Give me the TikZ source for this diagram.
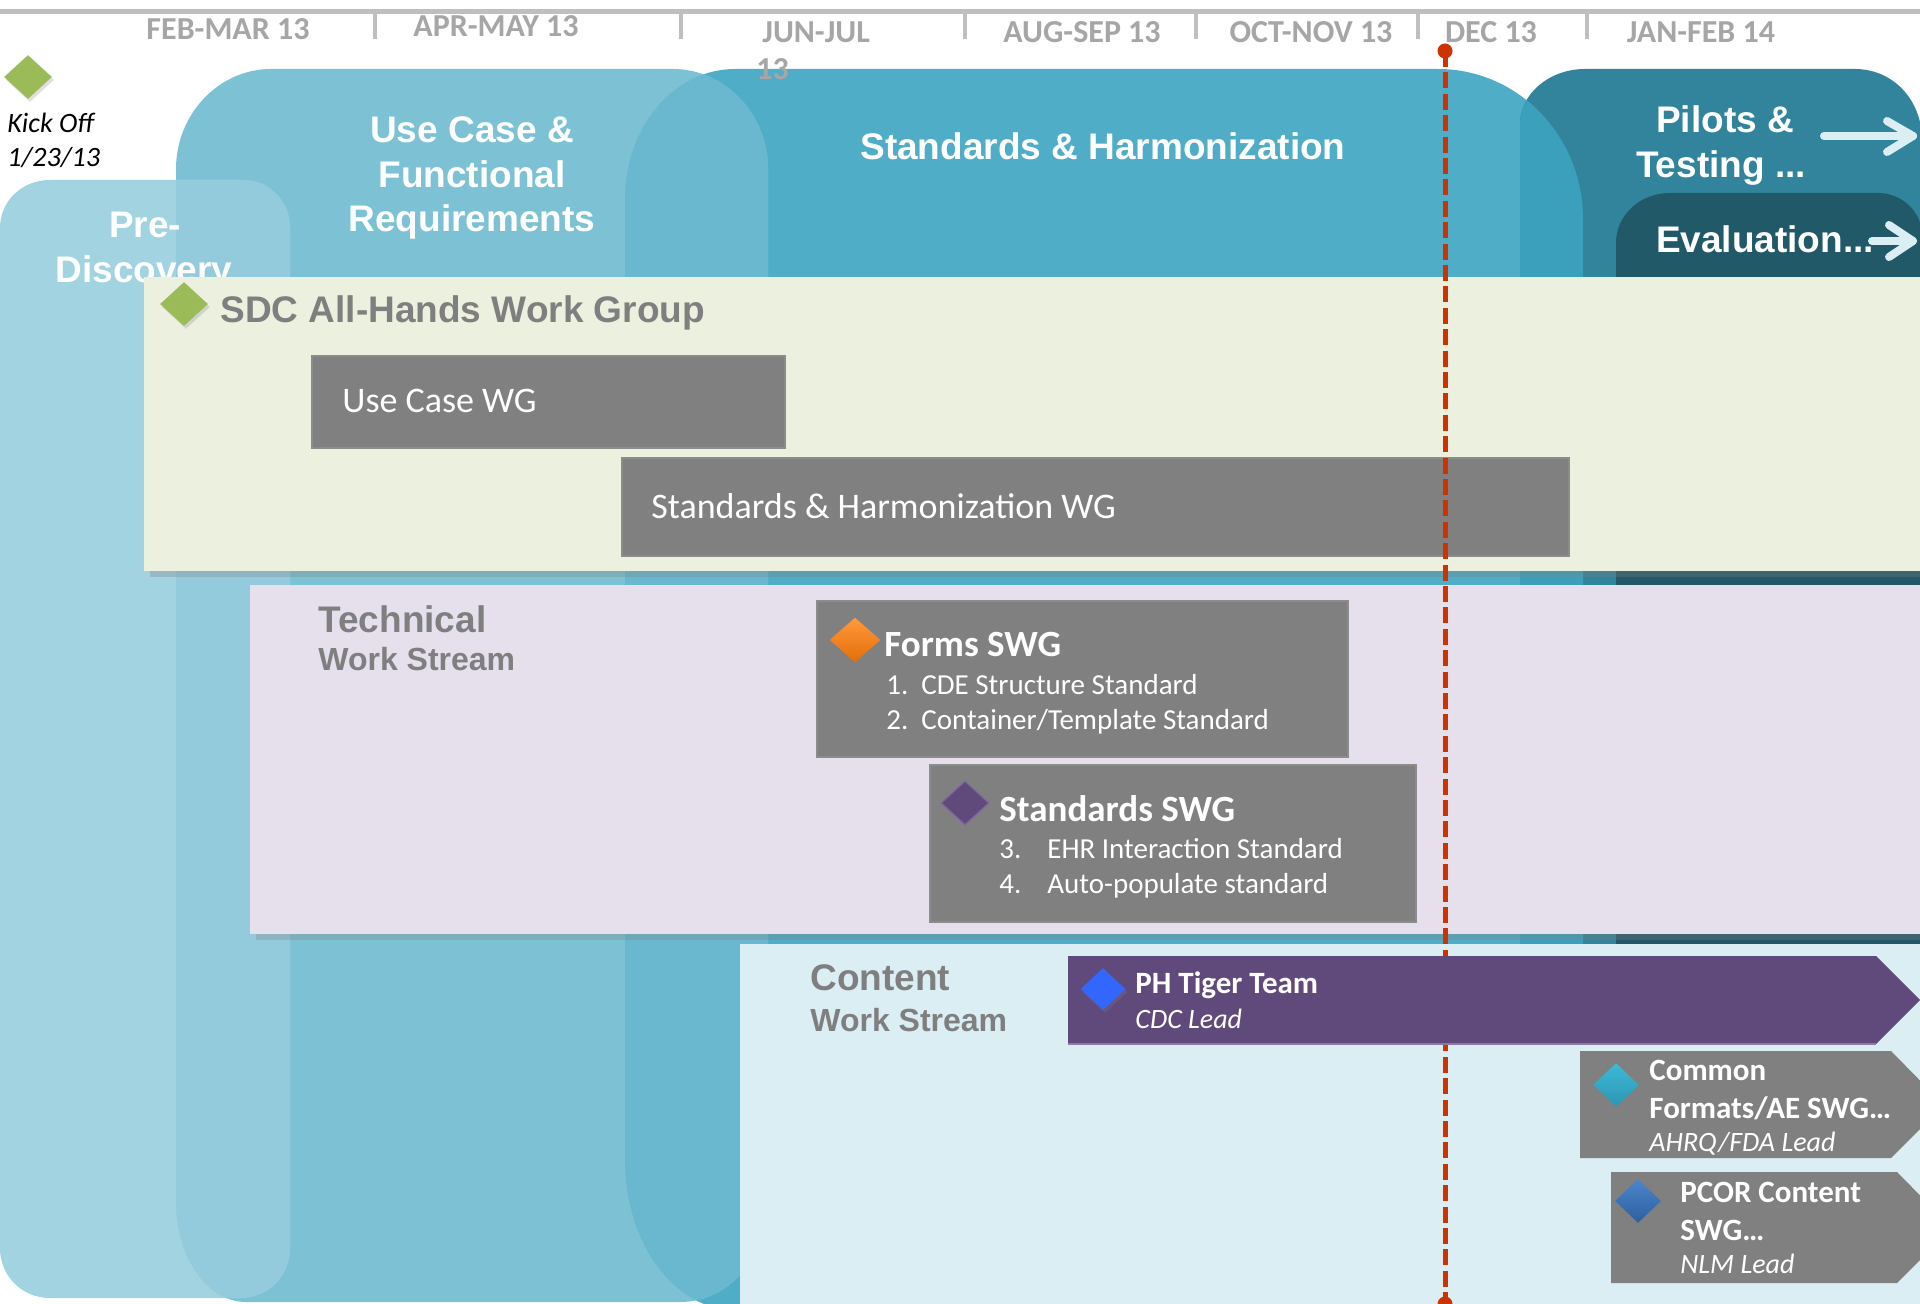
\documentclass[tikz,border=0pt]{standalone}
\usepackage{fontspec}
\setmainfont{Carlito}
\newfontfamily\arialfont{Liberation Sans}
\usetikzlibrary{shapes.geometric,shadows}
\definecolor{hdrgray}{HTML}{A6A6A6}
\definecolor{lineGray}{HTML}{BFBFBF}
\definecolor{titleGray}{HTML}{7F7F7F}
\definecolor{cPre}{HTML}{A1D3E1}
\definecolor{cPreUse}{HTML}{93CBDD}
\definecolor{cUse}{HTML}{7DC2D4}
\definecolor{cUseStd}{HTML}{69B8CF}
\definecolor{cStd}{HTML}{4FADC7}
\definecolor{cStdPil}{HTML}{3BA0BB}
\definecolor{cPil}{HTML}{31849B}
\definecolor{cEval}{HTML}{215968}
\definecolor{cSDC}{HTML}{EBF1DE}
\definecolor{cTech}{HTML}{E6E0EC}
\definecolor{cCont}{HTML}{DBEEF4}
\definecolor{boxGray}{HTML}{808080}
\definecolor{boxEdge}{HTML}{8C8C8C}
\definecolor{cTiger}{HTML}{604A7B}
\definecolor{cTigerEdge}{HTML}{8B7BA3}
\definecolor{cRed}{HTML}{CC3300}
\definecolor{cArrow}{HTML}{DBEEF3}
\definecolor{cGreen}{HTML}{9BBB59}
\definecolor{cOrangeT}{HTML}{FF9A3C}
\definecolor{cOrangeB}{HTML}{E46C0A}
\definecolor{cPurple}{HTML}{604A7B}
\definecolor{cPurpleEdge}{HTML}{8064A2}
\definecolor{cBlue}{HTML}{3366FF}
\definecolor{cCyanT}{HTML}{3DB9D6}
\definecolor{cCyanB}{HTML}{2D96B3}
\definecolor{cNavyT}{HTML}{4A86CC}
\definecolor{cNavyB}{HTML}{2E5F9E}
\tikzset{
  hdr/.style={font=\bfseries\fontsize{16}{19}\selectfont, text=hdrgray, inner sep=0, anchor=base},
  hdrleft/.style={hdr, anchor=base west},
  tickline/.style={draw=lineGray, line width=2pt},
  phasetitle/.style={font=\arialfont\bfseries\fontsize{18.5}{22}\selectfont, text=white, inner sep=0, anchor=base},
  streamtitle/.style={font=\arialfont\bfseries\fontsize{18.5}{22}\selectfont, text=titleGray, inner sep=0, anchor=base west},
  streamsub/.style={font=\arialfont\bfseries\fontsize{16}{19}\selectfont, text=titleGray, inner sep=0, anchor=base west},
  kicktext/.style={font=\itshape\fontsize{14}{17}\selectfont, text=black, inner sep=0, anchor=base west},
  wgtext/.style={font=\fontsize{18}{21}\selectfont, text=white, inner sep=0, anchor=base west},
  swgtitle/.style={font=\bfseries\fontsize{18.5}{22}\selectfont, text=white, inner sep=0, anchor=base west},
  swgitem/.style={font=\fontsize{14.5}{17}\selectfont, text=white, inner sep=0, anchor=base west},
  ctitle/.style={font=\bfseries\fontsize{15.5}{18}\selectfont, text=white, inner sep=0, anchor=base west},
  clead/.style={font=\itshape\fontsize{14}{17}\selectfont, text=white, inner sep=0, anchor=base west},
  milestone/.style={diamond, inner sep=0, minimum width=24pt, minimum height=22pt,
     drop shadow={opacity=0.25, shadow xshift=1pt, shadow yshift=-1.5pt}},
  wgbox/.style={fill=boxGray, draw=boxEdge, line width=0.6pt},
  lane/.style={drop shadow={opacity=0.3, shadow xshift=3pt, shadow yshift=-3pt}},
  todayline/.style={draw=cRed, line width=2.5pt, dash pattern=on 8pt off 2.7pt},
  whitearrow/.style={draw=cArrow, line width=4pt, line cap=round, line join=round},
}
\begin{document}
\begin{tikzpicture}[x=0.5pt,y=-0.5pt]
\useasboundingbox (0,0) rectangle (1920,1304);
\clip (0,0) rectangle (1920,1304);
\fill[white] (0,0) rectangle (1920,1304);

% ---------- timeline header ----------
\draw[draw=lineGray, line width=2.5pt] (0,12) -- (1920,12);
\foreach \tx in {375,681,965,1196,1418,1587}{
  \draw[tickline] (\tx,12) -- (\tx,39);
}
\node[hdr] (h1) at (228,40) {FEB-MAR 13};
\node[hdr] (h2) at (496,37) {APR-MAY 13};
\node[hdrleft] (h3) at (762,43) {JUN-JUL};
\node[hdr] (h4) at (1082,43) {AUG-SEP 13};
\node[hdr] (h5) at (1311,43) {OCT-NOV 13};
\node[hdr] (h6) at (1491,43) {DEC 13};
\node[hdr] (h7) at (1701,43) {JAN-FEB 14};

% ---------- phase shapes ----------
\def\preshape{(0,1248) -- (0,228) .. controls (0,201) and (22,180) .. (50,180) -- (243,180) .. controls (269,180) and (290,201) .. (290,228) -- (290,1248) .. controls (290,1276) and (268,1298) .. (240,1298) -- (50,1298) .. controls (22,1298) and (0,1276) .. (0,1248) -- cycle}
\def\useshape{(176,1202) -- (176,169) .. controls (176,114) and (219,69) .. (271,69) -- (673,69) .. controls (725,69) and (768,114) .. (768,169) -- (768,1202) .. controls (768,1257) and (729,1302) .. (680,1302) -- (246,1302) .. controls (207,1302) and (176,1257) .. (176,1202) -- cycle}
\def\stdshape{(625,1160) -- (625,199) .. controls (625,127) and (674,69) .. (735,69) -- (1438,69) .. controls (1518,69) and (1583,136) .. (1583,219) -- (1583,1200) .. controls (1583,1261) and (1534,1310) .. (1473,1310) -- (735,1310) .. controls (674,1310) and (625,1243) .. (625,1160) -- cycle}
\def\pilshape{(1520,1310) -- (1520,124) .. controls (1520,94) and (1549,69) .. (1585,69) -- (1855,69) .. controls (1893,69) and (1922,100) .. (1922,140) -- (1922,1310) -- cycle}
\def\evalshape{(1616,1310) -- (1616,243) .. controls (1616,215) and (1640,193) .. (1670,193) -- (1878,193) .. controls (1902,193) and (1922,212) .. (1922,235) -- (1922,1310) -- cycle}

\fill[cStd] \stdshape;
\fill[cPil] \pilshape;
\begin{scope}
  \clip \pilshape;
  \fill[cStdPil] \stdshape;
\end{scope}
\fill[cUse] \useshape;
\begin{scope}
  \clip \stdshape;
  \fill[cUseStd] \useshape;
\end{scope}
\fill[cPre] \preshape;
\begin{scope}
  \clip \useshape;
  \fill[cPreUse] \preshape;
\end{scope}
\fill[cEval] \evalshape;

\node[hdrleft] (h3b) at (756,80) {13};

% phase titles
\node[phasetitle] (pre1) at (145,238) {Pre-};
\node[phasetitle] (pre2) at (144,283) {Discovery};
\node[phasetitle] (uc1) at (472,143) {Use Case \&};
\node[phasetitle] (uc2) at (472,188) {Functional};
\node[phasetitle] (uc3) at (472,232) {Requirements};
\node[phasetitle] (sh1) at (1103,160) {Standards \& Harmonization};
\node[phasetitle] (pt1) at (1725,133) {Pilots \&};
\node[phasetitle] (pt2) at (1721,178) {Testing ...};
\node[phasetitle] (ev1) at (1765,253) {Evaluation...};

% continuation arrows
\coordinate (pa0) at (1824,136);
\coordinate (pa1) at (1913,136);
\coordinate (ea0) at (1872,241);
\coordinate (ea1) at (1913,241);
\draw[whitearrow] (pa0) -- (pa1);
\draw[whitearrow] (1887,121) -- (pa1) -- (1887,152);
\draw[whitearrow] (ea0) -- (ea1);
\draw[whitearrow] (1889,225) -- (ea1) -- (1889,257);

% kick off
\node[milestone, fill=cGreen] (kickd) at (28,77) {};
\node[kicktext] (kick1) at (7,133) {Kick Off};
\node[kicktext] (kick2) at (7,167) {1/23/13};

% ---------- SDC All-Hands lane ----------
\fill[cSDC, lane] (144,277) rectangle (1925,571);
\node[milestone, fill=cGreen] (sdcd) at (184,304) {};
\node[streamtitle] (sdct) at (220,323) {SDC All-Hands Work Group};
\draw[wgbox] (312,356) rectangle (785,448);
\node[wgtext] (ucwg) at (342,413) {Use Case WG};
\draw[wgbox] (622,458) rectangle (1569,556);
\node[wgtext] (shwg) at (651,518) {Standards \& Harmonization WG};

% ---------- Technical work stream ----------
\fill[cTech, lane] (250,585) rectangle (1925,934);
\node[streamtitle] (tech1) at (318,632) {Technical};
\node[streamsub] (tech2) at (318,670) {Work Stream};

\draw[wgbox] (817,601) rectangle (1348,757);
\node[milestone, top color=cOrangeT, bottom color=cOrangeB, minimum width=25.5pt, minimum height=22.5pt] (formsd) at (855,640) {};
\node[swgtitle] (forms) at (884,656) {Forms SWG};
\node[swgitem] (f1) at (886,694) {\makebox[17.5pt][l]{1.}CDE Structure Standard};
\node[swgitem] (f2) at (886,729) {\makebox[17.5pt][l]{2.}Container/Template Standard};

\draw[wgbox] (930,765) rectangle (1416,922);
\node[milestone, fill=cPurple, draw=cPurpleEdge, line width=0.6pt] (stdd) at (965,803) {};
\node[swgtitle] (stds) at (999,821) {Standards SWG};
\node[swgitem] (s3) at (999,858) {\makebox[24pt][l]{3.}EHR Interaction Standard};
\node[swgitem] (s4) at (999,893) {\makebox[24pt][l]{4.}Auto-populate standard};

% ---------- Content work stream ----------
\fill[cCont] (740,944) rectangle (1925,1310);
\node[streamtitle] (cont1) at (810,990) {Content};
\node[streamsub] (cont2) at (810,1031) {Work Stream};

% ---------- today line ----------
\coordinate (todaytop) at (1445,51);
\coordinate (todaybot) at (1445,1304);
\draw[todayline] (todaytop) -- (todaybot);
\fill[cRed] (todaytop) circle (3.75pt);
\fill[cRed] (todaybot) circle (3.75pt);

% PH Tiger Team
\fill[cTiger] (1068,956) -- (1876,956) -- (1920,1000) -- (1876,1044) -- (1068,1044) -- cycle;
\draw[cTigerEdge, line width=0.6pt] (1068,1044) -- (1876,1044);
\node[milestone, fill=cBlue, minimum width=22.5pt, minimum height=21pt] (tigerd) at (1103,989) {};
\node[ctitle] (tiger1) at (1135,993) {PH Tiger Team};
\node[clead] (tiger2) at (1135,1028) {CDC Lead};

% Common Formats
\fill[boxGray] (1580,1051) -- (1891,1051) -- (1944,1105) -- (1891,1158) -- (1580,1158) -- cycle;
\node[milestone, top color=cCyanT, bottom color=cCyanB, minimum width=23pt, minimum height=22pt] (cfd) at (1616,1085) {};
\node[ctitle] (cf1) at (1649,1080) {Common};
\node[ctitle] (cf2) at (1649,1118) {Formats/AE SWG…};
\node[clead] (cf3) at (1649,1151) {AHRQ/FDA Lead};

% PCOR Content
\fill[boxGray] (1611,1172) -- (1897,1172) -- (1952,1228) -- (1897,1283) -- (1611,1283) -- cycle;
\node[milestone, top color=cNavyT, bottom color=cNavyB, minimum width=23pt, minimum height=22pt] (pcord) at (1638,1201) {};
\node[ctitle] (pc1) at (1680,1202) {PCOR Content};
\node[ctitle] (pc2) at (1680,1240) {SWG…};
\node[clead] (pc3) at (1680,1273) {NLM Lead};
\end{tikzpicture}
\end{document}
